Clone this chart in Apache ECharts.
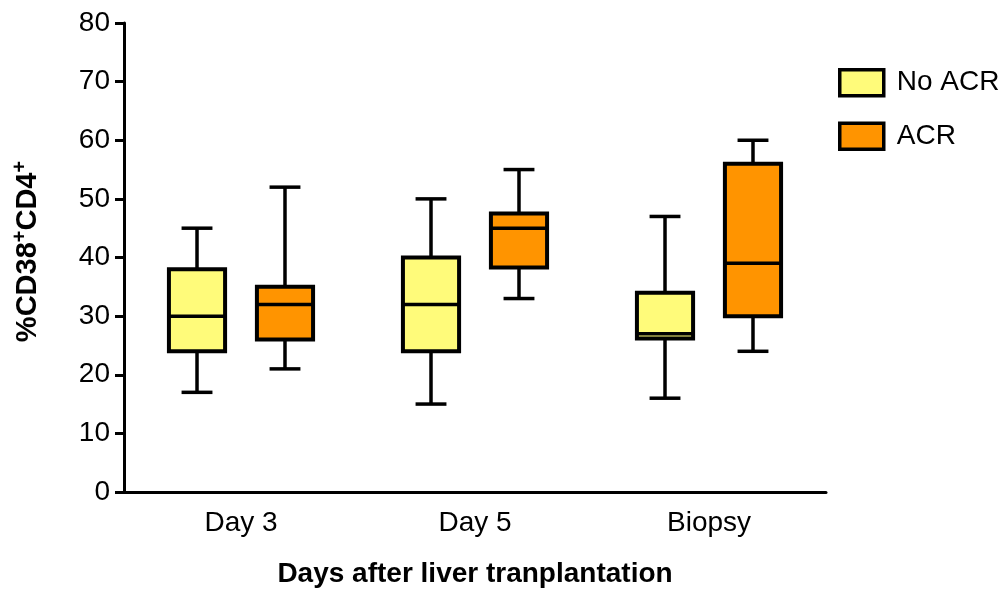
<!DOCTYPE html>
<html>
<head>
<meta charset="utf-8">
<script src="https://cdn.jsdelivr.net/npm/echarts@6/dist/echarts.min.js"></script>
<style>
  html, body { margin: 0; padding: 0; background: #fff; }
  #chart { width: 1007px; height: 589px; }
</style>
</head>
<body>
<div id="chart"></div>
<script>
// Groups on the x axis
const categories = ['Day 3', 'Day 5', 'Biopsy'];
// Five-number summaries per group: [min, Q1, median, Q3, max]
const noAcrStats = [
  [17, 24, 30, 38, 45],
  [15, 24, 32, 40, 50],
  [16, 26.2, 27, 34, 47]
];
const acrStats = [
  [21, 26, 32, 35, 52],
  [33, 38.3, 45, 47.5, 55],
  [24, 30, 39, 56, 60]
];
const seriesNames = ['No ACR', 'ACR'];
const yTicks = { min: 0, max: 80, interval: 10 };

const FONT = '"Liberation Sans", Arial, Helvetica, sans-serif';
const FILLS = ['#FFFB7A', '#FF9400'];
const BOX_FRAC = 0.24;     // box width as share of the category band
const CAP_FRAC = 0.132;    // whisker cap length as share of the band
const OFFSET_FRAC = 0.188; // distance of each box from the band centre

function toRows(stats) {
  return stats.map((s, i) => [i].concat(s));
}

function boxRenderer(offsetFrac, fill) {
  return function (params, api) {
    const cat = api.value(0);
    const band = api.size([1, 0])[0];
    const cx = api.coord([cat, 0])[0] + offsetFrac * band;
    const y = (d) => api.coord([cat, api.value(d)])[1];
    const yMin = y(1), yQ1 = y(2), yMed = y(3), yQ3 = y(4), yMax = y(5);
    const half = band * BOX_FRAC / 2;
    const capHalf = band * CAP_FRAC / 2;
    const stroke = { stroke: '#000', lineWidth: 3.5, lineCap: 'butt' };
    return {
      type: 'group',
      children: [
        { type: 'line', shape: { x1: cx, y1: yMax, x2: cx, y2: yQ3 }, style: stroke },
        { type: 'line', shape: { x1: cx, y1: yQ1, x2: cx, y2: yMin }, style: stroke },
        { type: 'line', shape: { x1: cx - capHalf, y1: yMax, x2: cx + capHalf, y2: yMax }, style: stroke },
        { type: 'line', shape: { x1: cx - capHalf, y1: yMin, x2: cx + capHalf, y2: yMin }, style: stroke },
        {
          type: 'rect',
          shape: { x: cx - half, y: yQ3, width: half * 2, height: yQ1 - yQ3 },
          style: { fill: fill, stroke: '#000', lineWidth: 4, lineJoin: 'miter' }
        },
        { type: 'line', shape: { x1: cx - half, y1: yMed, x2: cx + half, y2: yMed }, style: stroke }
      ]
    };
  };
}

const chart = echarts.init(document.getElementById('chart'), null, { renderer: 'canvas' });

chart.setOption({
  backgroundColor: '#fff',
  animation: false,
  textStyle: { fontFamily: FONT },
  grid: { left: 124, right: 181, top: 23, bottom: 97, containLabel: false, outerBoundsMode: 'none' },
  legend: {
    orient: 'vertical',
    left: 833,
    top: 63,
    itemWidth: 44,
    itemHeight: 26,
    itemGap: 24,
    icon: 'rect',
    data: seriesNames.map((n, i) => ({
      name: n,
      itemStyle: { color: FILLS[i], borderColor: '#000', borderWidth: 3.5 }
    })),
    textStyle: { fontFamily: FONT, fontSize: 28, color: '#000', padding: [0, 0, 0, 8] },
    selectedMode: false
  },
  xAxis: {
    type: 'category',
    data: categories,
    boundaryGap: true,
    name: 'Days after liver tranplantation',
    nameLocation: 'middle',
    nameGap: 68,
    nameTextStyle: { fontFamily: FONT, fontSize: 28, fontWeight: 'bold', color: '#000' },
    axisLine: { lineStyle: { color: '#000', width: 3 } },
    axisTick: { alignWithLabel: true, length: 9, lineStyle: { color: '#000', width: 3 } },
    axisLabel: { fontFamily: FONT, fontSize: 28, color: '#000', margin: 17 },
    splitLine: { show: false }
  },
  yAxis: {
    type: 'value',
    min: yTicks.min,
    max: yTicks.max,
    interval: yTicks.interval,
    name: '{m|%CD38}{s|+}{m|CD4}{s|+}',
    nameLocation: 'middle',
    nameRotate: 90,
    nameGap: 82,
    nameTextStyle: {
      fontFamily: FONT,
      color: '#000',
      padding: [0, 0, 0, 12],
      rich: {
        m: { fontFamily: FONT, fontSize: 29, fontWeight: 'bold', color: '#000', lineHeight: 32, verticalAlign: 'bottom' },
        s: { fontFamily: FONT, fontSize: 20, fontWeight: 'bold', color: '#000', lineHeight: 32, verticalAlign: 'top', padding: [0, 0, 14, 0] }
      }
    },
    axisLine: { show: true, lineStyle: { color: '#000', width: 3 } },
    axisTick: { show: true, length: 9, lineStyle: { color: '#000', width: 3 } },
    axisLabel: { fontFamily: FONT, fontSize: 28, color: '#000', margin: 14 },
    splitLine: { show: false }
  },
  series: [noAcrStats, acrStats].map((stats, i) => ({
    name: seriesNames[i],
    type: 'custom',
    renderItem: boxRenderer(i === 0 ? -OFFSET_FRAC : OFFSET_FRAC, FILLS[i]),
    encode: { x: 0, y: [1, 2, 3, 4, 5] },
    itemStyle: { color: FILLS[i], borderColor: '#000', borderWidth: 3.5 },
    data: toRows(stats)
  }))
});
</script>
</body>
</html>
